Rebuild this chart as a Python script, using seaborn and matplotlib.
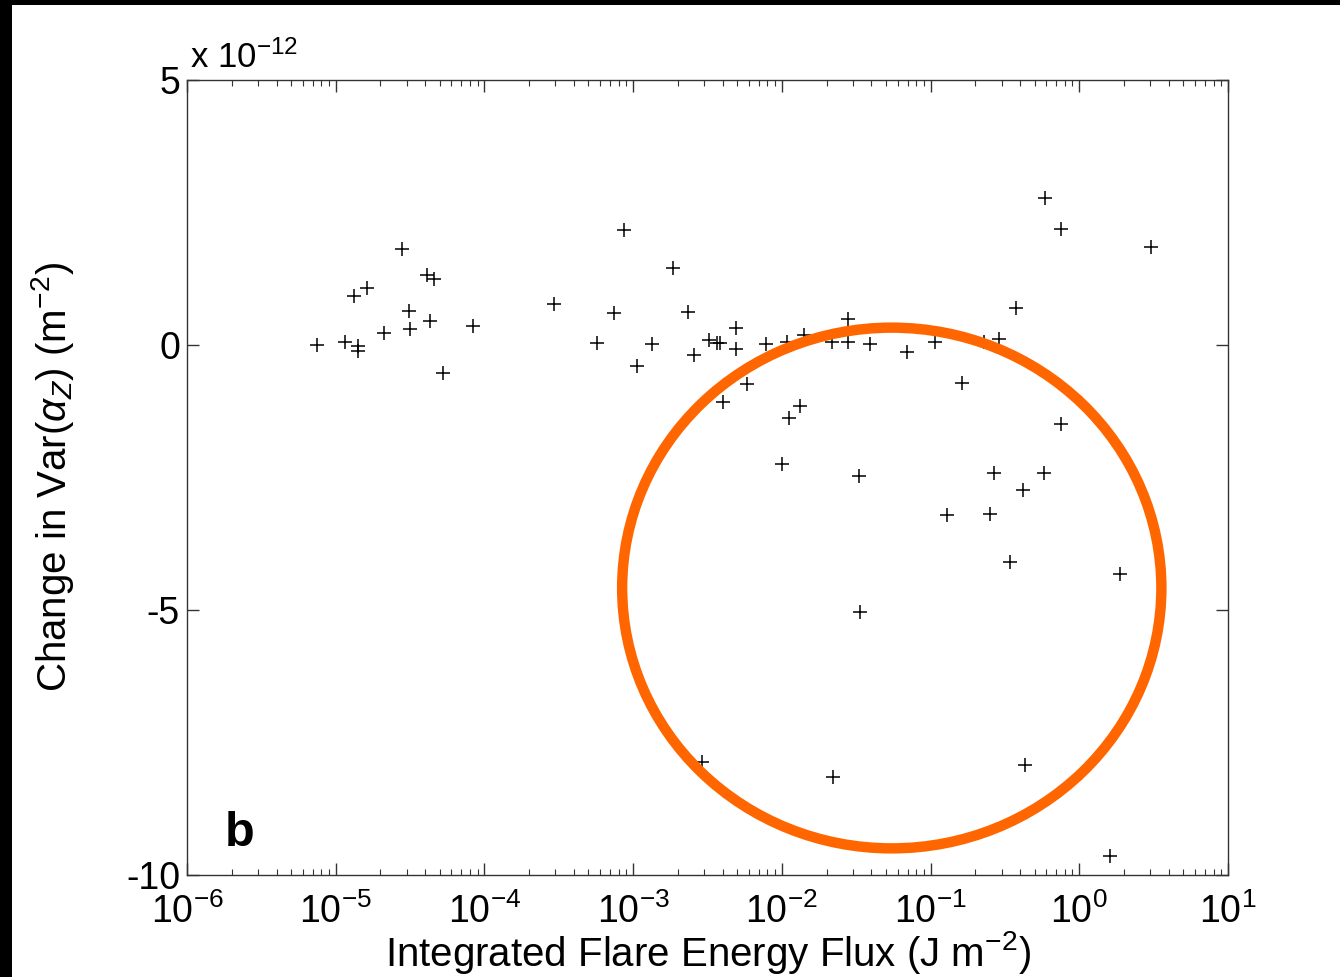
import matplotlib
matplotlib.use("Agg")
import matplotlib.pyplot as plt
from matplotlib.patches import Ellipse, Rectangle
from matplotlib.ticker import LogLocator, LogFormatterMathtext
import numpy as np
import pandas as pd
import seaborn as sns

# integrated flare energy flux (J m^-2)
flux = [7.5e-6, 1.15e-5, 1.41e-5, 1.41e-5, 1.33e-5, 1.63e-5, 2.12e-5, 2.81e-5,
        3.11e-5, 3.16e-5, 4.11e-5, 4.60e-5, 4.30e-5, 5.29e-5, 8.41e-5,
        2.94e-4, 5.71e-4, 7.44e-4, 8.73e-4, 1.06e-3, 1.34e-3, 1.86e-3, 2.33e-3,
        2.58e-3, 2.92e-3, 3.25e-3, 3.66e-3, 3.81e-3, 4.90e-3, 4.90e-3, 4.04e-3,
        5.86e-3, 7.83e-3, 9.97e-3, 1.08e-2, 1.12e-2, 1.32e-2, 1.41e-2, 2.17e-2,
        2.22e-2, 2.80e-2, 2.80e-2, 3.30e-2, 3.36e-2, 3.92e-2, 6.98e-2, 0.107,
        0.128, 0.162, 0.227, 0.251, 0.269, 0.290, 0.343, 0.376, 0.417, 0.432,
        0.579, 0.589, 0.751, 0.751, 1.61, 1.88, 3.03]

# change in Var(alpha_z), units of 1e-12 m^-2
dvar = [0.0, 0.06, -0.02, -0.11, 0.93, 1.08, 0.22, 1.81,
        0.64, 0.31, 1.32, 1.24, 0.45, -0.52, 0.36,
        0.77, 0.03, 0.60, 2.17, -0.39, 0.01, 1.45, 0.62,
        -0.19, -7.86, 0.09, 0.03, 0.03, 0.33, -0.07, -1.07,
        -0.74, 0.01, -2.25, 0.06, -1.37, -1.16, 0.19, 0.05,
        -8.15, 0.49, 0.05, -2.47, -5.03, 0.01, -0.14, 0.05,
        -3.20, -0.72, 0.05, -3.18, -2.42, 0.11, -4.09, 0.70, -2.73, -7.92,
        -2.42, 2.78, 2.18, -1.49, -9.64, -4.32, 1.84]

df = pd.DataFrame({"flux": flux, "dvar": dvar})

sns.set_style("ticks")
plt.rcParams["font.family"] = ["Liberation Sans", "DejaVu Sans"]
plt.rcParams["mathtext.fontset"] = "custom"
plt.rcParams["mathtext.rm"] = "Liberation Sans"
plt.rcParams["mathtext.it"] = "Liberation Sans:italic"
plt.rcParams["mathtext.bf"] = "Liberation Sans:bold"
plt.rcParams["text.color"] = "black"
plt.rcParams["axes.labelcolor"] = "black"

fig = plt.figure(figsize=(13.4, 9.77), dpi=100, facecolor="black")
fig.patches.append(Rectangle((12 / 1340, 0), 1, 1 - 5 / 977, transform=fig.transFigure,
                             facecolor="white", edgecolor="none", zorder=-10))
ax = fig.add_axes([187 / 1340, 102 / 977, 1041 / 1340, 795 / 977])

sns.scatterplot(data=df, x="flux", y="dvar", marker="+", color="black",
                s=110, linewidth=1.1, ax=ax, legend=False)

ax.set_xscale("log")
ax.set_xlim(1e-6, 1e1)
ax.set_ylim(-10, 5)
ax.set_yticks([-10, -5, 0, 5])
ax.set_yticklabels(["-10", "-5", "0", "5"])
ax.xaxis.set_major_locator(LogLocator(base=10, numticks=10))
ax.xaxis.set_minor_locator(LogLocator(base=10, subs=np.arange(2, 10), numticks=20))
ax.xaxis.set_major_formatter(LogFormatterMathtext())

for s in ax.spines.values():
    s.set_visible(True)
    s.set_linewidth(1.0)
    s.set_color("#333333")
ax.tick_params(which="major", direction="in", length=8.5, width=1.0, labelsize=27,
               top=True, right=True, pad=5, colors="#333333", labelcolor="black")
ax.tick_params(axis="x", which="major", pad=13)
ax.tick_params(which="minor", direction="in", length=4, width=0.8,
               top=True, right=True, colors="#333333")

ax.set_xlabel(r"Integrated Flare Energy Flux (J m$^{-2}$)", fontsize=29, labelpad=-1)
ax.set_ylabel(r"Change in Var($\alpha_Z$) (m$^{-2}$)", fontsize=29, labelpad=36)

fig.text(190 / 1340, 1 - 68 / 977, r"x 10$^{-12}$", fontsize=25, ha="left", va="baseline")
ax.text(0.036, 0.036, "b", transform=ax.transAxes, fontsize=35, fontweight="bold")

ring = Ellipse((0.677, 0.361), 0.518, 0.655, transform=ax.transAxes, fill=False,
               edgecolor="#FF6600", linewidth=7.5, clip_on=False, zorder=5)
ax.add_patch(ring)

fig.savefig("out.png", dpi=100, facecolor=fig.get_facecolor())
